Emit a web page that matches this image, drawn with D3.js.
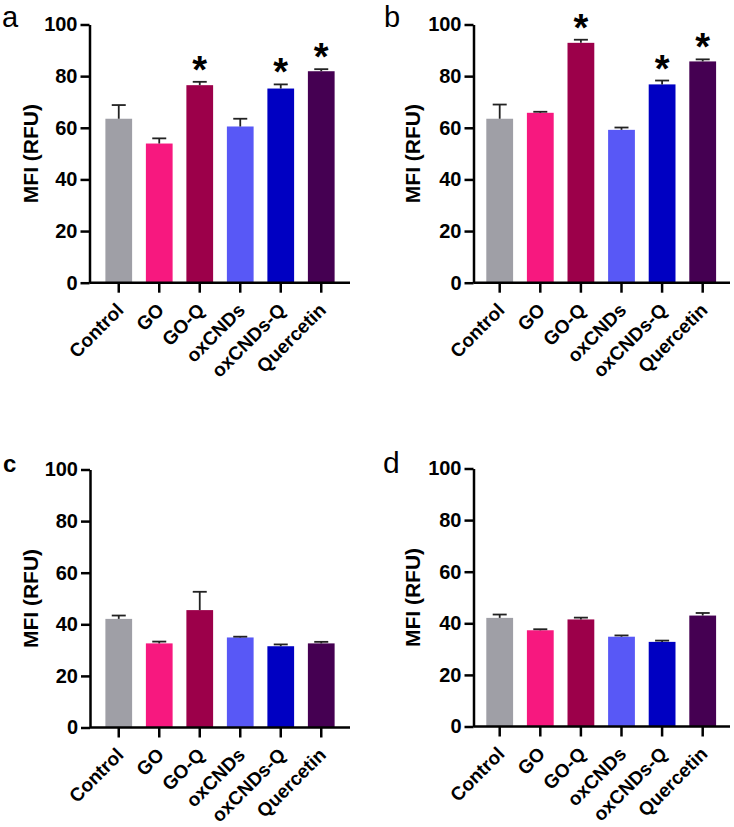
<!DOCTYPE html>
<html>
<head>
<meta charset="utf-8">
<script src="https://cdn.jsdelivr.net/npm/d3@7"></script>
<style>
  html, body { margin: 0; padding: 0; background: #fff; }
  svg { display: block; }
  text { font-family: "Liberation Sans", Arial, sans-serif; }
</style>
</head>
<body>
<svg id="chart" width="734" height="827"></svg>
<script>
// ---- data ----
const categories = ["Control", "GO", "GO-Q", "oxCNDs", "oxCNDs-Q", "Quercetin"];
const colors = ["#9f9fa6", "#f7187f", "#9c004a", "#5858f6", "#0000c2", "#450052"];
const yTicks = [0, 20, 40, 60, 80, 100];
const panelLabels = ["a", "b", "c", "d"];

const meanA = [63.5, 53.9, 76.5, 60.5, 75.2, 81.9];
const errA  = [5.3, 2.0, 1.3, 3.0, 1.6, 0.8];
const starA = [false, false, true, false, true, true];

const meanB = [63.5, 65.8, 92.9, 59.2, 76.8, 85.7];
const errB  = [5.5, 0.4, 1.2, 0.9, 1.5, 0.8];
const starB = [false, false, true, false, true, true];

const meanC = [42.1, 32.6, 45.5, 34.9, 31.5, 32.6];
const errC  = [1.3, 0.7, 7.1, 0.3, 0.7, 0.6];
const starC = [false, false, false, false, false, false];

const meanD = [42.1, 37.3, 41.5, 34.8, 32.8, 43.0];
const errD  = [1.3, 0.4, 0.7, 0.5, 0.5, 1.0];
const starD = [false, false, false, false, false, false];

// ---- layout ----
const panels = [
  { label: panelLabels[0], mean: meanA, err: errA, star: starA, axisX: 89.5,  bandL: 98.5,  bandR: 341.5, axisEnd: 350, yTop: 24.5, yBot: 282.7, lx: 2,   ly: 27,  lsize: 29, lweight: "normal", titleX: 38 },
  { label: panelLabels[1], mean: meanB, err: errB, star: starB, axisX: 473.5, bandL: 479.4, bandR: 723,   axisEnd: 730, yTop: 24.5, yBot: 282.7, lx: 384, ly: 27,  lsize: 29, lweight: "normal", titleX: 420 },
  { label: panelLabels[2], mean: meanC, err: errC, star: starC, axisX: 90,    bandL: 98.5,  bandR: 341.5, axisEnd: 350, yTop: 469.5, yBot: 727.5, lx: 3, ly: 472, lsize: 24, lweight: "bold", titleX: 38 },
  { label: panelLabels[3], mean: meanD, err: errD, star: starD, axisX: 473.5, bandL: 479.4, bandR: 723,   axisEnd: 730, yTop: 468.5, yBot: 726.5, lx: 383, ly: 473, lsize: 30, lweight: "normal", titleX: 420 }
];

const svg = d3.select("#chart");

panels.forEach(p => {
  const g = svg.append("g");
  const x = d3.scaleBand().domain(categories).range([p.bandL, p.bandR]).paddingInner(0.34).paddingOuter(0.17);
  const y = d3.scaleLinear().domain([0, 100]).range([p.yBot, p.yTop]);

  // bars
  g.selectAll("rect.bar").data(categories).join("rect")
    .attr("class", "bar")
    .attr("x", d => x(d))
    .attr("width", x.bandwidth())
    .attr("y", (d, i) => y(p.mean[i]))
    .attr("height", (d, i) => y(0) - y(p.mean[i]))
    .attr("fill", (d, i) => colors[i]);

  // error bars (upper only)
  const eb = g.selectAll("g.err").data(categories).join("g").attr("class", "err");
  eb.append("line")
    .attr("x1", d => x(d) + x.bandwidth() / 2)
    .attr("x2", d => x(d) + x.bandwidth() / 2)
    .attr("y1", (d, i) => y(p.mean[i]))
    .attr("y2", (d, i) => y(p.mean[i] + p.err[i]))
    .attr("stroke", "#222").attr("stroke-width", 1.8);
  eb.append("line")
    .attr("x1", d => x(d) + x.bandwidth() / 2 - 7)
    .attr("x2", d => x(d) + x.bandwidth() / 2 + 7)
    .attr("y1", (d, i) => y(p.mean[i] + p.err[i]))
    .attr("y2", (d, i) => y(p.mean[i] + p.err[i]))
    .attr("stroke", "#222").attr("stroke-width", 1.8);

  // asterisks
  g.selectAll("text.star").data(categories.filter((d, i) => p.star[i])).join("text")
    .attr("class", "star")
    .attr("x", d => x(d) + x.bandwidth() / 2)
    .attr("y", d => { const i = categories.indexOf(d); return y(p.mean[i] + p.err[i]) + 1; })
    .attr("text-anchor", "middle")
    .attr("font-size", 38).attr("font-weight", "bold").attr("fill", "#000")
    .text("*");

  // y axis
  const yAxis = d3.axisLeft(y).tickValues(yTicks).tickSize(9).tickPadding(3).tickSizeOuter(0);
  const ya = g.append("g").attr("transform", `translate(${p.axisX},0)`).call(yAxis);
  ya.select(".domain").attr("stroke", "#000").attr("stroke-width", 2.5);
  ya.selectAll(".tick line").attr("stroke", "#000").attr("stroke-width", 2.5);
  ya.selectAll(".tick text").attr("font-size", 20).attr("font-weight", "bold").attr("fill", "#000")
    .attr("font-family", "'Liberation Sans', Arial, sans-serif");

  // x axis
  const xa = g.append("g").attr("transform", `translate(0,${p.yBot})`);
  xa.append("line").attr("x1", p.axisX).attr("x2", p.axisEnd).attr("y1", 0).attr("y2", 0)
    .attr("stroke", "#000").attr("stroke-width", 2.5);
  const xt = xa.selectAll("g.xtick").data(categories).join("g").attr("class", "xtick")
    .attr("transform", d => `translate(${x(d) + x.bandwidth() / 2},0)`);
  xt.append("line").attr("y1", 0).attr("y2", 10).attr("stroke", "#000").attr("stroke-width", 2.5);
  xt.append("text")
    .attr("transform", "translate(6,28.5) rotate(-45)")
    .attr("text-anchor", "end")
    .attr("font-size", 19).attr("font-weight", "bold").attr("fill", "#000")
    .text(d => d);

  // y title
  g.append("text")
    .attr("transform", `translate(${p.titleX},${(p.yTop + p.yBot) / 2}) rotate(-90)`)
    .attr("text-anchor", "middle")
    .attr("font-size", 21).attr("font-weight", "bold").attr("fill", "#000")
    .text("MFI (RFU)");

  // panel label
  g.append("text").attr("x", p.lx).attr("y", p.ly)
    .attr("font-size", p.lsize).attr("font-weight", p.lweight).attr("fill", "#000")
    .text(p.label);
});
</script>
</body>
</html>
